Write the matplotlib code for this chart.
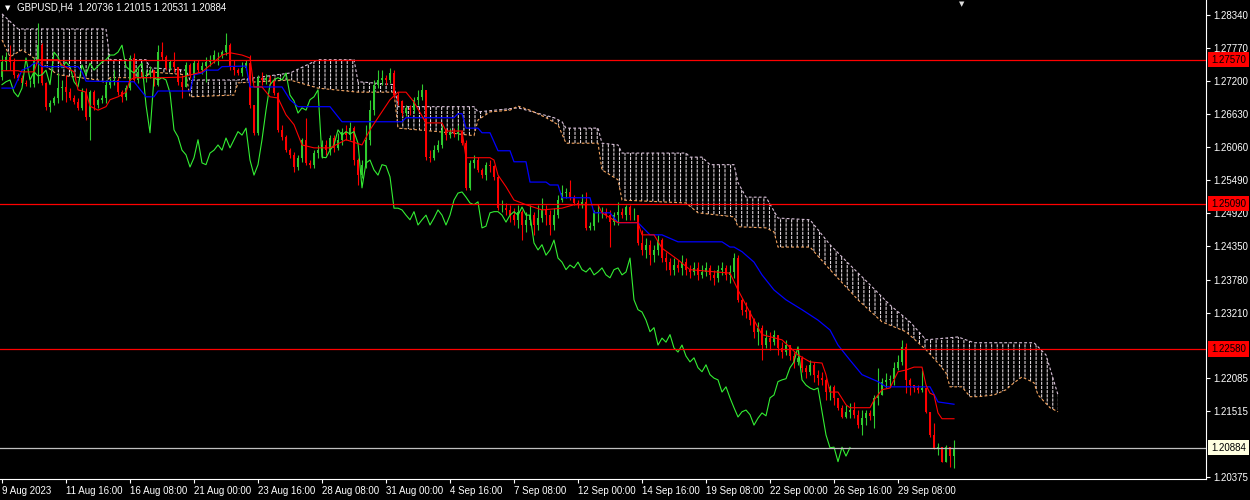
# coding:utf-8
# GBPUSD H4 chart with Ichimoku, drawn in the MT4 style (black background)

import numpy as np
import matplotlib
matplotlib.use("Agg")
import matplotlib.pyplot as plt
import matplotlib.transforms as mtrans

#[data] one H4 bar per index, bar 0 = 9 Aug 2023 00:00
first_open = 1.2727
closes = [
    1.2753, 1.2762, 1.2753, 1.2731, 1.2726, 1.2717, 1.2715, 1.2715, 1.2757, 1.2782,
    1.2717, 1.2676, 1.2682, 1.2691, 1.2708, 1.2710, 1.2701, 1.2691, 1.2684, 1.2674,
    1.2701, 1.2658, 1.2701, 1.2679, 1.2688, 1.2691, 1.2714, 1.2719, 1.2722, 1.2701,
    1.2693, 1.2708, 1.2760, 1.2722, 1.2736, 1.2729, 1.2731, 1.2739, 1.2714, 1.2770,
    1.2762, 1.2743, 1.2753, 1.2745, 1.2719, 1.2710, 1.2748, 1.2731, 1.2751, 1.2739,
    1.2746, 1.2753, 1.2757, 1.2765, 1.2765, 1.2770, 1.2782, 1.2745, 1.2739, 1.2734,
    1.2743, 1.2751, 1.2679, 1.2631, 1.2726, 1.2722, 1.2726, 1.2722, 1.2700, 1.2636,
    1.2624, 1.2601, 1.2593, 1.2572, 1.2588, 1.2619, 1.2579, 1.2576, 1.2596, 1.2601,
    1.2610, 1.2601, 1.2622, 1.2605, 1.2619, 1.2633, 1.2627, 1.2639, 1.2584, 1.2558,
    1.2576, 1.2619, 1.2670, 1.2714, 1.2722, 1.2726, 1.2722, 1.2734, 1.2696, 1.2686,
    1.2665, 1.2674, 1.2670, 1.2688, 1.2693, 1.2705, 1.2589, 1.2588, 1.2601, 1.2610,
    1.2636, 1.2627, 1.2633, 1.2629, 1.2633, 1.2613, 1.2536, 1.2579, 1.2584, 1.2567,
    1.2558, 1.2576, 1.2574, 1.2555, 1.2501, 1.2501, 1.2498, 1.2489, 1.2481, 1.2495,
    1.2472, 1.2481, 1.2489, 1.2472, 1.2484, 1.2498, 1.2489, 1.2472, 1.2489, 1.2515,
    1.2527, 1.2529, 1.2520, 1.2510, 1.2507, 1.2512, 1.2467, 1.2470, 1.2493, 1.2495,
    1.2495, 1.2489, 1.2477, 1.2489, 1.2495, 1.2489, 1.2503, 1.2489, 1.2489, 1.2441,
    1.2429, 1.2438, 1.2420, 1.2429, 1.2446, 1.2415, 1.2408, 1.2395, 1.2403, 1.2398,
    1.2408, 1.2395, 1.2391, 1.2398, 1.2386, 1.2391, 1.2398, 1.2386, 1.2381, 1.2395,
    1.2398, 1.2386, 1.2391, 1.2415, 1.2343, 1.2326, 1.2322, 1.2308, 1.2288, 1.2295,
    1.2265, 1.2277, 1.2270, 1.2283, 1.2260, 1.2253, 1.2265, 1.2246, 1.2236, 1.2243,
    1.2226, 1.2219, 1.2231, 1.2214, 1.2208, 1.2205, 1.2184, 1.2193, 1.2174, 1.2157,
    1.2141, 1.2150, 1.2153, 1.2145, 1.2127, 1.2139, 1.2148, 1.2143, 1.2174, 1.2179,
    1.2202, 1.2205, 1.2207, 1.2226, 1.2236, 1.2262, 1.2205, 1.2196, 1.2191, 1.2188,
    1.2191, 1.2150, 1.2110, 1.2088, 1.2089, 1.2064, 1.2089, 1.20736, 1.20884,
]
highs = [
    1.2765, 1.2770, 1.2782, 1.2760, 1.2734, 1.2731, 1.2722, 1.2722, 1.2762, 1.2820,
    1.2786, 1.2719, 1.2688, 1.2695, 1.2734, 1.2722, 1.2731, 1.2708, 1.2696, 1.2691,
    1.2708, 1.2708, 1.2705, 1.2705, 1.2691, 1.2696, 1.2722, 1.2726, 1.2739, 1.2726,
    1.2705, 1.2714, 1.2765, 1.2769, 1.2743, 1.2736, 1.2739, 1.2746, 1.2739, 1.2782,
    1.2788, 1.2765, 1.2757, 1.2770, 1.2743, 1.2731, 1.2753, 1.2751, 1.2757, 1.2757,
    1.2753, 1.2762, 1.2765, 1.2774, 1.2770, 1.2774, 1.2803, 1.2786, 1.2757, 1.2743,
    1.2753, 1.2757, 1.2765, 1.2679, 1.2731, 1.2736, 1.2732, 1.2731, 1.2726, 1.2701,
    1.2645, 1.2627, 1.2605, 1.2598, 1.2593, 1.2622, 1.2657, 1.2584, 1.2601, 1.2610,
    1.2619, 1.2619, 1.2627, 1.2627, 1.2631, 1.2639, 1.2645, 1.2650, 1.2643, 1.2588,
    1.2584, 1.2645, 1.2688, 1.2722, 1.2739, 1.2739, 1.2731, 1.2743, 1.2739, 1.2701,
    1.2688, 1.2679, 1.2679, 1.2693, 1.2705, 1.2715, 1.2701, 1.2601, 1.2610, 1.2619,
    1.2645, 1.2639, 1.2639, 1.2639, 1.2645, 1.2636, 1.2619, 1.2584, 1.2593, 1.2589,
    1.2570, 1.2581, 1.2584, 1.2576, 1.2558, 1.2515, 1.2510, 1.2507, 1.2501, 1.2507,
    1.2498, 1.2495, 1.2507, 1.2495, 1.2507, 1.2519, 1.2507, 1.2498, 1.2501, 1.2524,
    1.2541, 1.2536, 1.2550, 1.2524, 1.2515, 1.2526, 1.2529, 1.2477, 1.2498, 1.2507,
    1.2503, 1.2501, 1.2498, 1.2495, 1.2512, 1.2501, 1.2507, 1.2507, 1.2501, 1.2489,
    1.2464, 1.2450, 1.2446, 1.2438, 1.2455, 1.2450, 1.2426, 1.2415, 1.2415, 1.2412,
    1.2420, 1.2415, 1.2403, 1.2408, 1.2408, 1.2403, 1.2408, 1.2403, 1.2395, 1.2403,
    1.2408, 1.2403, 1.2403, 1.2424, 1.2420, 1.2346, 1.2339, 1.2326, 1.2312, 1.2305,
    1.2300, 1.2291, 1.2288, 1.2291, 1.2283, 1.2270, 1.2274, 1.2265, 1.2253, 1.2257,
    1.2246, 1.2231, 1.2239, 1.2236, 1.2222, 1.2219, 1.2208, 1.2196, 1.2196, 1.2170,
    1.2162, 1.2162, 1.2165, 1.2167, 1.2153, 1.2153, 1.2153, 1.2153, 1.2179, 1.2226,
    1.2208, 1.2217, 1.2214, 1.2236, 1.2248, 1.2274, 1.2269, 1.2208, 1.2196, 1.2196,
    1.2222, 1.2191, 1.2150, 1.2131, 1.2096, 1.2088, 1.2093, 1.2089, 1.21015,
]
lows = [
    1.2722, 1.2739, 1.2739, 1.2726, 1.2722, 1.2714, 1.2712, 1.2710, 1.2710, 1.2717,
    1.2714, 1.2670, 1.2667, 1.2679, 1.2682, 1.2688, 1.2684, 1.2688, 1.2681, 1.2670,
    1.2670, 1.2653, 1.2619, 1.2670, 1.2674, 1.2682, 1.2682, 1.2708, 1.2714, 1.2696,
    1.2684, 1.2688, 1.2705, 1.2719, 1.2717, 1.2726, 1.2719, 1.2726, 1.2712, 1.2712,
    1.2757, 1.2739, 1.2739, 1.2736, 1.2714, 1.2691, 1.2710, 1.2726, 1.2726, 1.2736,
    1.2732, 1.2719, 1.2746, 1.2751, 1.2748, 1.2760, 1.2765, 1.2739, 1.2731, 1.2731,
    1.2729, 1.2739, 1.2674, 1.2627, 1.2627, 1.2714, 1.2715, 1.2714, 1.2696, 1.2633,
    1.2619, 1.2598, 1.2588, 1.2564, 1.2567, 1.2581, 1.2576, 1.2570, 1.2570, 1.2588,
    1.2588, 1.2593, 1.2593, 1.2598, 1.2601, 1.2610, 1.2619, 1.2619, 1.2576, 1.2541,
    1.2553, 1.2570, 1.2610, 1.2662, 1.2708, 1.2714, 1.2714, 1.2717, 1.2691, 1.2679,
    1.2660, 1.2660, 1.2662, 1.2665, 1.2679, 1.2688, 1.2584, 1.2581, 1.2584, 1.2598,
    1.2605, 1.2619, 1.2622, 1.2624, 1.2619, 1.2610, 1.2532, 1.2532, 1.2570, 1.2564,
    1.2553, 1.2550, 1.2564, 1.2550, 1.2498, 1.2495, 1.2489, 1.2477, 1.2472, 1.2467,
    1.2446, 1.2460, 1.2472, 1.2455, 1.2464, 1.2477, 1.2472, 1.2455, 1.2464, 1.2484,
    1.2512, 1.2519, 1.2515, 1.2507, 1.2501, 1.2501, 1.2464, 1.2464, 1.2464, 1.2477,
    1.2484, 1.2484, 1.2434, 1.2472, 1.2472, 1.2484, 1.2481, 1.2481, 1.2481, 1.2438,
    1.2420, 1.2415, 1.2403, 1.2408, 1.2420, 1.2408, 1.2395, 1.2386, 1.2386, 1.2391,
    1.2386, 1.2386, 1.2381, 1.2386, 1.2377, 1.2381, 1.2384, 1.2377, 1.2369, 1.2374,
    1.2386, 1.2377, 1.2372, 1.2381, 1.2339, 1.2317, 1.2312, 1.2300, 1.2277, 1.2265,
    1.2239, 1.2260, 1.2257, 1.2265, 1.2248, 1.2243, 1.2248, 1.2239, 1.2226, 1.2231,
    1.2219, 1.2208, 1.2214, 1.2202, 1.2196, 1.2196, 1.2170, 1.2170, 1.2162, 1.2153,
    1.2139, 1.2139, 1.2139, 1.2139, 1.2122, 1.2110, 1.2127, 1.2136, 1.2122, 1.2162,
    1.2179, 1.2191, 1.2193, 1.2196, 1.2222, 1.2231, 1.2182, 1.2179, 1.2184, 1.2182,
    1.2184, 1.2148, 1.2107, 1.2086, 1.2076, 1.2064, 1.2064, 1.2054, 1.20531,
]

# Ichimoku lines as (bar, price) points
tenkan_bar = [0, 4, 5, 8, 9, 14, 15, 18, 19, 21, 22, 24, 26, 27, 29, 31, 32, 33, 40, 45,
              50, 53, 55, 57, 60, 62, 63, 65, 67, 69, 71, 73, 75, 78, 82, 86, 90, 92, 94, 97,
              99, 101, 103, 106, 110, 111, 115, 116, 122, 123, 124, 126, 128, 131, 135, 140,
              143, 149, 150, 154, 159, 160, 163, 165, 169, 172, 182, 184, 186, 188, 190, 195,
              199, 202, 205, 206, 207, 209, 211, 212, 217, 218, 219, 220, 222, 223, 224, 226,
              228, 230, 231, 232, 233, 234, 235, 238]
tenkan_val = [1.2738, 1.2738, 1.2736, 1.2736, 1.2757, 1.2757, 1.2748, 1.2736, 1.2705, 1.2701,
              1.2677, 1.2670, 1.2676, 1.2688, 1.2693, 1.2701, 1.2722, 1.2726, 1.2726, 1.2727,
              1.2736, 1.2753, 1.2765, 1.2769, 1.2765, 1.2760, 1.2710, 1.2710, 1.2693, 1.2691,
              1.2662, 1.2645, 1.2610, 1.2605, 1.2605, 1.2619, 1.2610, 1.2636, 1.2657, 1.2688,
              1.2701, 1.2701, 1.2684, 1.2648, 1.2648, 1.2634, 1.2634, 1.2588, 1.2588, 1.2584,
              1.2558, 1.2538, 1.2515, 1.2507, 1.2498, 1.2501, 1.2507, 1.2507, 1.2493, 1.2476,
              1.2476, 1.2455, 1.2455, 1.2432, 1.2412, 1.2395, 1.2389, 1.2360, 1.2334, 1.2308,
              1.2283, 1.2274, 1.2248, 1.2236, 1.2234, 1.2214, 1.2184, 1.2184, 1.2162, 1.2157,
              1.2157, 1.2170, 1.2179, 1.2188, 1.2191, 1.2205, 1.2219, 1.2222, 1.2227, 1.2227,
              1.2196, 1.2182, 1.2179, 1.2148, 1.2138, 1.2138]
kijun_bar = [0, 3, 5, 7, 8, 9, 10, 19, 20, 21, 33, 36, 38, 39, 47, 48, 50, 51, 54, 55,
             61, 62, 70, 72, 73, 74, 82, 85, 100, 101, 113, 114, 115, 116, 119, 120, 122, 124,
             127, 128, 131, 132, 136, 137, 139, 140, 147, 148, 152, 154, 159, 162, 165, 169,
             180, 182, 183, 185, 188, 190, 193, 196, 200, 204, 207, 209, 212, 215, 219, 221,
             232, 234, 238]
kijun_val = [1.2708, 1.2708, 1.2739, 1.2745, 1.2751, 1.2751, 1.2745, 1.2745, 1.2736, 1.2720,
             1.2719, 1.2693, 1.2693, 1.2703, 1.2703, 1.2731, 1.2734, 1.2739, 1.2739, 1.2745,
             1.2746, 1.2710, 1.2710, 1.2688, 1.2682, 1.2676, 1.2676, 1.2650, 1.2650, 1.2657,
             1.2657, 1.2664, 1.2664, 1.2639, 1.2639, 1.2631, 1.2631, 1.2600, 1.2600, 1.2581,
             1.2581, 1.2546, 1.2546, 1.2541, 1.2541, 1.2519, 1.2519, 1.2493, 1.2493, 1.2476,
             1.2476, 1.2455, 1.2455, 1.2443, 1.2443, 1.2434, 1.2434, 1.2426, 1.2408, 1.2386,
             1.2360, 1.2343, 1.2326, 1.2308, 1.2291, 1.2265, 1.2239, 1.2214, 1.2202, 1.2193,
             1.2193, 1.2167, 1.2163]

# cloud edges (already shifted 26 bars forward)
span_b_bar = [0, 4, 26, 27, 36, 37, 46, 47, 59, 72, 79, 88, 89, 98, 99, 118, 119, 129, 138, 140,
              141, 149, 150, 154, 155, 171, 172, 175, 177, 183, 184, 186, 191, 194, 202, 207,
              212, 217, 222, 227, 231, 239, 243, 258, 261, 264]
span_b = [1.2836, 1.2810, 1.2810, 1.2757, 1.2757, 1.2743, 1.2739, 1.2722, 1.2722, 1.2734,
          1.2757, 1.2757, 1.2719, 1.2714, 1.2676, 1.2676, 1.2667, 1.2674, 1.2657, 1.2650,
          1.2639, 1.2639, 1.2613, 1.2610, 1.2596, 1.2596, 1.2589, 1.2589, 1.2576, 1.2576,
          1.2545, 1.2520, 1.2520, 1.2484, 1.2481, 1.2438, 1.2403, 1.2369, 1.2334, 1.2305,
          1.2274, 1.2279, 1.2269, 1.2269, 1.2248, 1.2179]
span_a_bar = [0, 2, 5, 14, 24, 26, 27, 36, 37, 46, 47, 58, 59, 72, 79, 89, 98, 99, 109, 118,
              119, 122, 127, 129, 132, 136, 139, 141, 149, 150, 154, 155, 171, 174, 183, 184,
              191, 193, 194, 202, 207, 214, 220, 226, 231, 234, 236, 237, 240, 242, 244, 248,
              251, 253, 255, 258, 259, 262, 264]
span_a = [1.2791, 1.2762, 1.2774, 1.2731, 1.2722, 1.2717, 1.2726, 1.2726, 1.2736, 1.2731,
          1.2693, 1.2696, 1.2717, 1.2722, 1.2708, 1.2701, 1.2701, 1.2639, 1.2633, 1.2626,
          1.2653, 1.2667, 1.2670, 1.2677, 1.2670, 1.2657, 1.2645, 1.2613, 1.2613, 1.2567,
          1.2550, 1.2515, 1.2510, 1.2493, 1.2486, 1.2469, 1.2467, 1.2460, 1.2434, 1.2434,
          1.2395, 1.2343, 1.2305, 1.2288, 1.2257, 1.2234, 1.2217, 1.2193, 1.2193, 1.2176,
          1.2176, 1.2179, 1.2188, 1.2200, 1.2210, 1.2200, 1.2179, 1.2157, 1.2150]

# horizontal levels and axis labels
red_levels = [1.27570, 1.25090, 1.22580]
bid_level = 1.20884
price_ticks = [1.28340, 1.27770, 1.27200, 1.26630, 1.26060, 1.25490, 1.24920, 1.24350,
               1.23780, 1.23210, 1.22085, 1.21515, 1.20375]
date_bars = [0, 16, 32, 48, 64, 80, 96, 112, 128, 144, 160, 176, 192, 208, 224]
date_labels = ["9 Aug 2023", "11 Aug 16:00", "16 Aug 08:00", "21 Aug 00:00", "23 Aug 16:00",
               "28 Aug 08:00", "31 Aug 00:00", "4 Sep 16:00", "7 Sep 08:00", "12 Sep 00:00",
               "14 Sep 16:00", "19 Sep 08:00", "22 Sep 00:00", "26 Sep 16:00", "29 Sep 08:00"]
title = "GBPUSD,H4  1.20736 1.21015 1.20531 1.20884"

#[style]
plt.rcParams['font.family'] = ['Liberation Sans', 'DejaVu Sans']
plt.rcParams['hatch.linewidth'] = 0.75
bull = '#2FCB2F'
bear = '#FF0000'
fg = '#FFFFFF'

closes = np.array(closes)
highs = np.array(highs)
lows = np.array(lows)
opens = np.r_[first_open, closes[:-1]]
x = np.arange(len(closes))

fig = plt.figure(figsize=(12.5, 5), dpi=100, facecolor='black')
ax = fig.add_axes([0, 21 / 500, 1206 / 1250, 479 / 500], facecolor='black')

# cloud: vertical dotted hatching between the two spans
cx = np.r_[span_b_bar, span_a_bar[::-1]]
cy = np.r_[span_b, span_a[::-1]]
ax.fill(cx, cy, facecolor='none', edgecolor='#E8DEE4', hatch='|||', linewidth=0,
        antialiased=False, zorder=1)
ax.fill(cx, cy, facecolor='none', edgecolor='black', hatch='----', linewidth=0,
        antialiased=False, zorder=1.1)
ax.plot(span_b_bar, span_b, color='#D8BFD8', lw=0.8, ls=(0, (2.5, 2)), zorder=1.2)
ax.plot(span_a_bar, span_a, color='#F4A460', lw=0.8, ls=(0, (2.5, 2)), zorder=1.2)

# candles
up = closes >= opens
cols = np.where(up, bull, bear)
ax.vlines(x, lows, highs, colors=cols, lw=0.8, zorder=2)
ax.bar(x, closes - opens, bottom=opens, width=0.72, color=cols, linewidth=0, zorder=2.1)

# ichimoku lines
ax.plot(x[26:] - 26, closes[26:], color='#33EE33', lw=0.8, zorder=3)
ax.plot(kijun_bar, kijun_val, color='#0000FF', lw=0.9, zorder=3)
ax.plot(tenkan_bar, tenkan_val, color='#FF0000', lw=0.8, zorder=3)

# horizontal lines
for lv in red_levels:
    ax.axhline(lv, color='#FF0000', lw=0.9, zorder=4)
ax.axhline(bid_level, color='#C0C0C0', lw=0.9, zorder=4)

ax.set_xlim(-0.5, 301)
ax.set_ylim(1.20341, 1.28599)

# axes look
for s in ['top', 'left']:
    ax.spines[s].set_visible(False)
for s in ['right', 'bottom']:
    ax.spines[s].set_color(fg)
    ax.spines[s].set_linewidth(0.8)

ax.yaxis.tick_right()
ax.set_yticks(price_ticks)
ax.set_yticklabels(["%.5f" % v for v in price_ticks])
ax.set_xticks(date_bars)
ax.set_xticklabels(date_labels)
for lbl in ax.get_xticklabels():
    lbl.set_horizontalalignment('left')
ax.tick_params(axis='both', colors=fg, labelcolor=fg, labelsize=7, length=3, width=0.8,
               direction='out', pad=2)

# price boxes on the right scale
trans = mtrans.blended_transform_factory(ax.transAxes, ax.transData)
for lv in red_levels:
    ax.text(1.0 + 5 / 1206, lv, "%.5f" % lv, transform=trans, fontsize=7, color='black',
            va='center', ha='left', zorder=6,
            bbox=dict(boxstyle='square,pad=0.28', facecolor='#FF0000', edgecolor='none'))
ax.text(1.0 + 5 / 1206, bid_level, "%.5f" % bid_level, transform=trans, fontsize=7,
        color='black', va='center', ha='left', zorder=6,
        bbox=dict(boxstyle='square,pad=0.28', facecolor='#FFFFE0', edgecolor='none'))

# title and markers
fig.text(5 / 1250, 1 - 8 / 500, u"\u25BC", fontsize=5, color=fg, family='DejaVu Sans',
         va='center', ha='left')
fig.text(17 / 1250, 1 - 8 / 500, title, fontsize=7, color=fg, va='center', ha='left')
fig.text(962 / 1250, 1 - 4 / 500, u"\u25BC", fontsize=5, color='#DDDDDD',
         family='DejaVu Sans', va='center', ha='center')

fig.savefig("out.png", dpi=100, facecolor='black')
